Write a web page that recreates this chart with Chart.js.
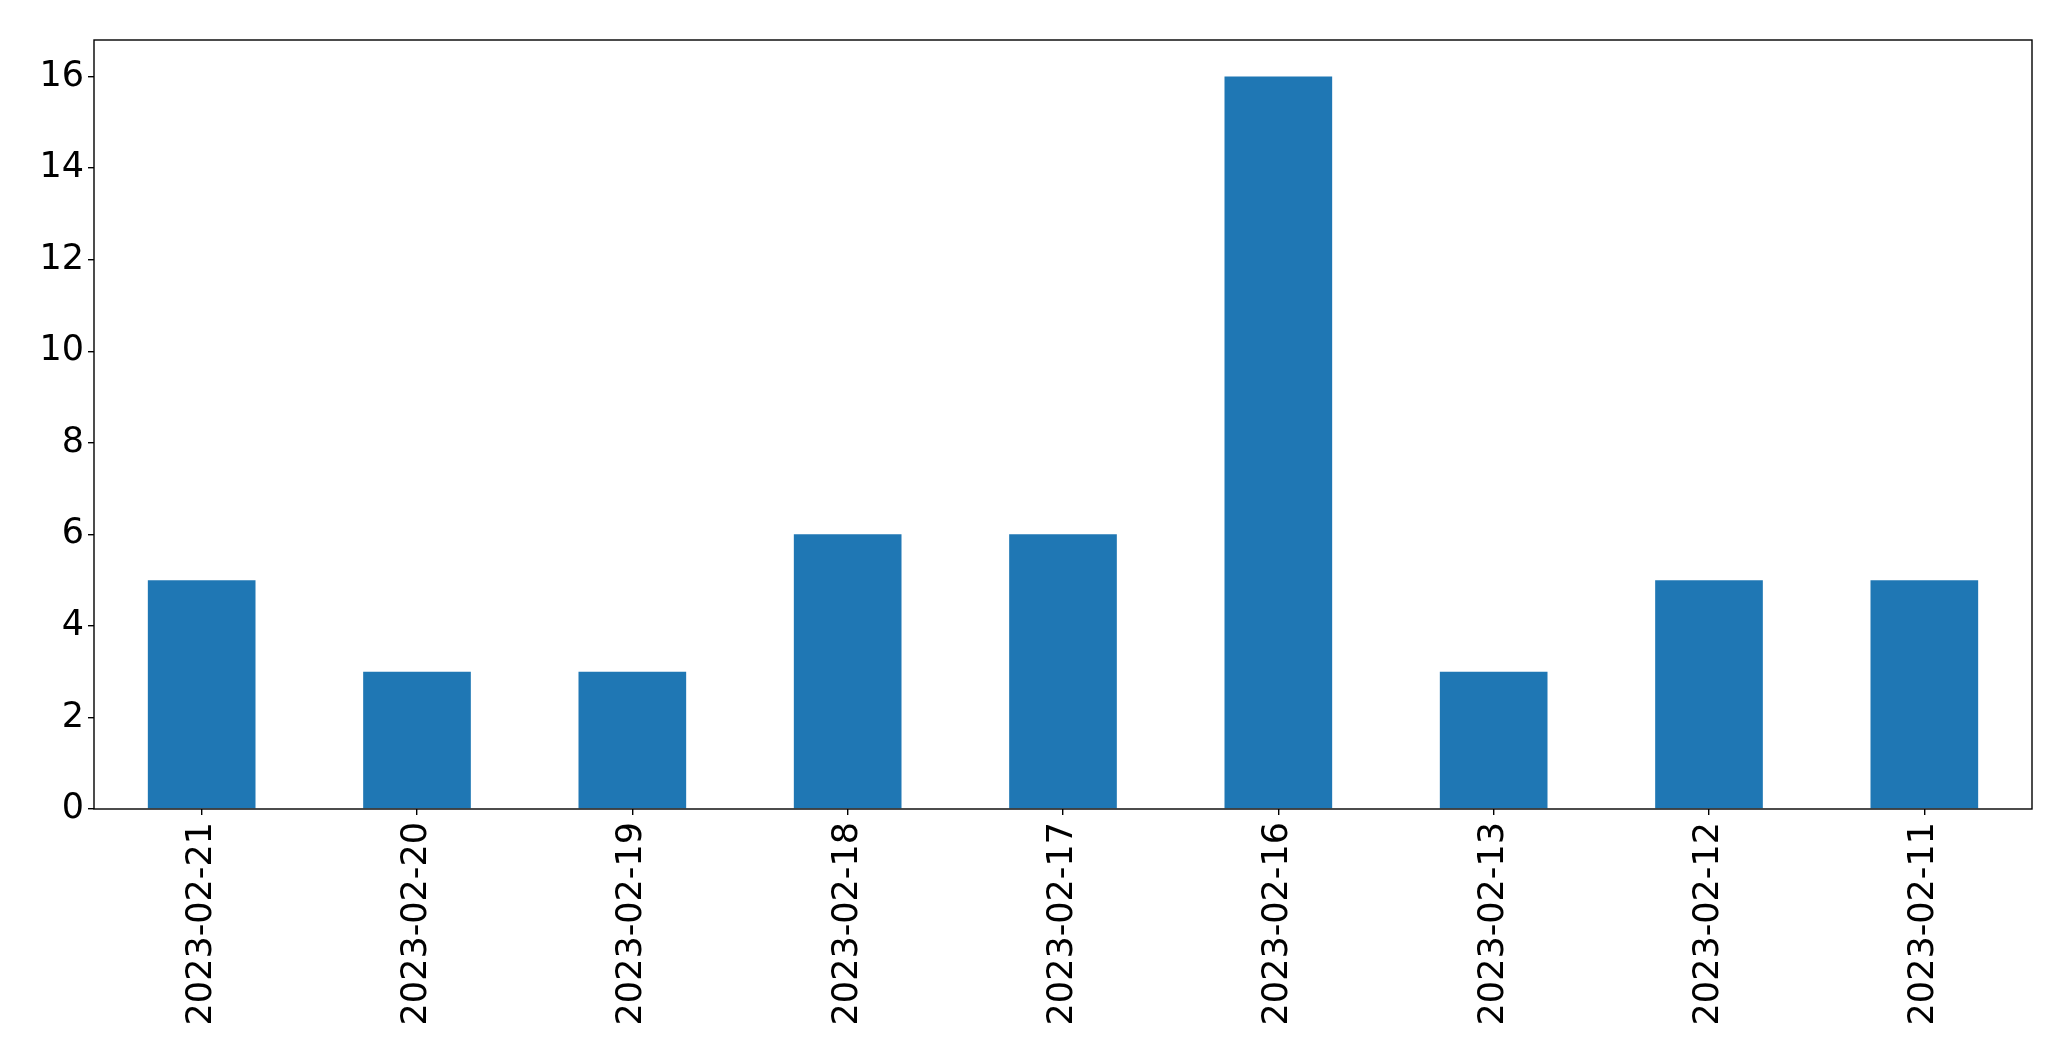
<!DOCTYPE html>
<html>
<head>
<meta charset="utf-8">
<script src="https://cdn.jsdelivr.net/npm/chart.js@4"></script>
<style>
  html, body { margin: 0; padding: 0; background: #fff; }
  #wrap { width: 2071px; height: 1061px; }
</style>
</head>
<body>
<div id="wrap"><canvas id="chart" width="2071" height="1061"></canvas></div>
<script>
const dates = ["2023-02-21", "2023-02-20", "2023-02-19", "2023-02-18", "2023-02-17",
  "2023-02-16", "2023-02-13", "2023-02-12", "2023-02-11"];
const counts = [5, 3, 3, 6, 6, 16, 3, 5, 5];
const yTicks = [0, 2, 4, 6, 8, 10, 12, 14, 16];

const barColor = "#1f77b4";
const tickFont = { family: "'DejaVu Sans', sans-serif", size: 35 };

// frame round the plot area, like matplotlib's spines
const frame = {
  id: "frame",
  afterDatasetsDraw(chart) {
    const { ctx, chartArea: a } = chart;
    ctx.save();
    ctx.strokeStyle = "#000";
    ctx.lineWidth = 1.4;
    ctx.strokeRect(a.left, a.top, a.right - a.left, a.bottom - a.top);
    ctx.restore();
  },
};

new Chart(document.getElementById("chart"), {
  type: "bar",
  data: {
    labels: dates,
    datasets: [
      {
        data: counts,
        backgroundColor: barColor,
        borderWidth: 0,
        barPercentage: 0.5,
        categoryPercentage: 1,
      },
    ],
  },
  options: {
    responsive: false,
    animation: false,
    layout: { padding: { top: 40, right: 39, left: 0, bottom: 0 } },
    plugins: { legend: { display: false }, tooltip: { enabled: false } },
    scales: {
      x: {
        offset: true,
        afterFit: (s) => { s.height = 252; },
        grid: { offset: false, drawOnChartArea: false, drawTicks: true, tickLength: 6, color: "#000", lineWidth: 1.4 },
        border: { display: false },
        ticks: {
          color: "#000",
          font: tickFont,
          autoSkip: false,
          maxRotation: 90,
          minRotation: 90,
          padding: 7,
        },
      },
      y: {
        min: 0,
        max: 16.8,
        afterFit: (s) => { s.width = 94; },
        afterBuildTicks: (s) => { s.ticks = yTicks.map((v) => ({ value: v })); },
        grid: { drawOnChartArea: false, drawTicks: true, tickLength: 6, color: "#000", lineWidth: 1.4 },
        border: { display: false },
        ticks: { color: "#000", font: tickFont, padding: 4 },
      },
    },
  },
  plugins: [frame],
});
</script>
</body>
</html>
